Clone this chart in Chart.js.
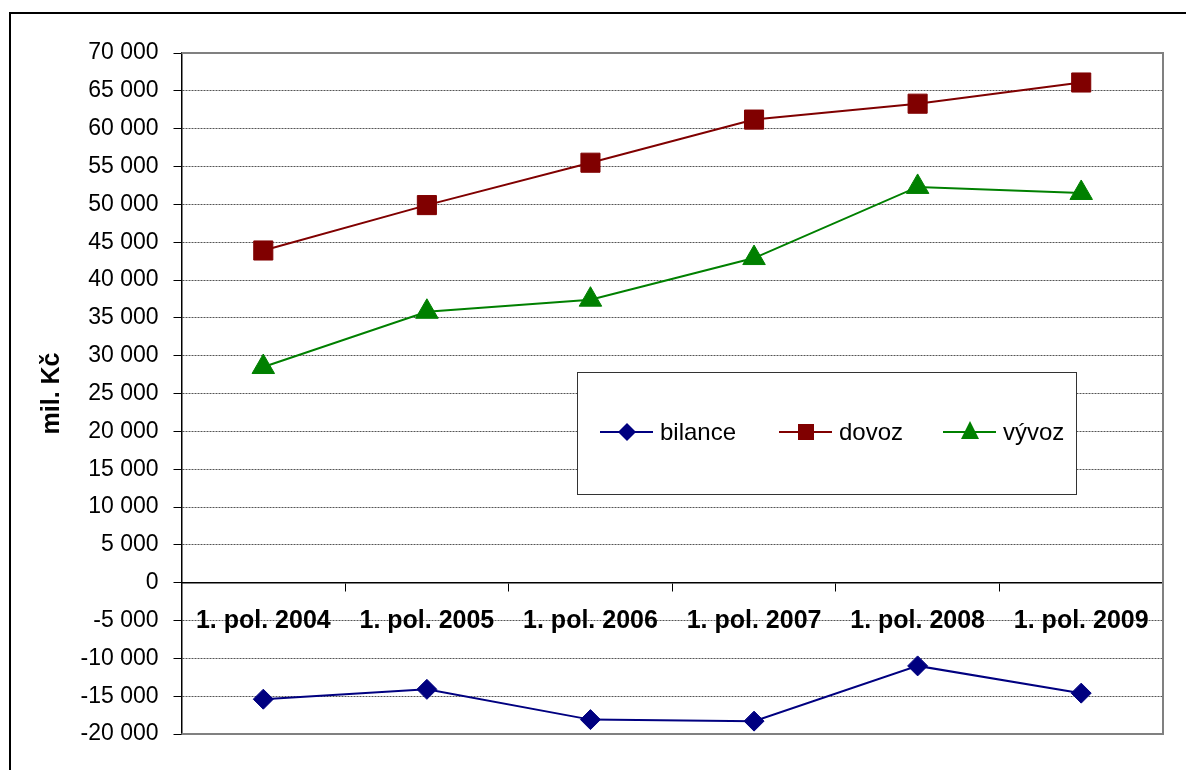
<!DOCTYPE html>
<html>
<head>
<meta charset="utf-8">
<script src="https://cdn.jsdelivr.net/npm/chart.js@4.4.1/dist/chart.umd.min.js"></script>
<style>
    html, body { margin: 0; padding: 0; background: #fff; overflow: hidden; }
    #frame { position: absolute; left: 9px; top: 12px; width: 1300px; height: 900px; border: 2px solid #000; }
    #myChart { position: absolute; left: 0; top: 0; }
</style>
</head>
<body>
<div id="frame"></div>
<canvas id="myChart" width="1186" height="770"></canvas>
<script>
const categories = ["1. pol. 2004", "1. pol. 2005", "1. pol. 2006", "1. pol. 2007", "1. pol. 2008", "1. pol. 2009"];
const bilance = [-15400, -14100, -18100, -18300, -11000, -14600];
const dovoz = [43900, 49900, 55500, 61200, 63300, 66100];
const vyvoz = [28500, 35800, 37400, 42900, 52300, 51500];
const yTicks = [-20000, -15000, -10000, -5000, 0, 5000, 10000, 15000, 20000, 25000, 30000, 35000, 40000, 45000, 50000, 55000, 60000, 65000, 70000];

const FONT = "'Liberation Sans', Arial, sans-serif";

// "70 000", "-5 000"
const fmt = (v) => (v < 0 ? '-' : '') + String(Math.abs(v)).replace(/\B(?=(\d{3})+(?!\d))/g, ' ');

// grey frame of the plot area (top, right, bottom)
const plotFrame = {
    id: 'plotFrame',
    beforeDatasetsDraw(chart) {
        const { ctx, chartArea: a } = chart;
        ctx.save();
        ctx.strokeStyle = '#808080';
        ctx.lineWidth = 2;
        ctx.beginPath();
        ctx.moveTo(a.left, a.top);
        ctx.lineTo(a.right, a.top);
        ctx.lineTo(a.right, a.bottom);
        ctx.lineTo(a.left, a.bottom);
        ctx.stroke();
        ctx.restore();
    }
};

function marker(ctx, style, x, y, color) {
    ctx.fillStyle = color;
    ctx.beginPath();
    if (style === 'rectRot') {
        const r = 9;
        ctx.moveTo(x - r, y); ctx.lineTo(x, y - r); ctx.lineTo(x + r, y); ctx.lineTo(x, y + r);
    } else if (style === 'rect') {
        ctx.rect(x - 8, y - 8, 16, 16);
    } else {
        ctx.moveTo(x, y - 11); ctx.lineTo(x + 9, y + 7); ctx.lineTo(x - 9, y + 7);
    }
    ctx.closePath();
    ctx.fill();
}

// boxed legend inside the plot
const legendBox = {
    id: 'legendBox',
    afterDatasetsDraw(chart) {
        const ctx = chart.ctx;
        ctx.save();
        ctx.fillStyle = '#fff';
        ctx.fillRect(577, 372, 500, 123);
        ctx.strokeStyle = '#333';
        ctx.lineWidth = 1;
        ctx.strokeRect(577.5, 372.5, 499, 122);
        const starts = [600, 779, 943];
        const y = 432;
        chart.data.datasets.forEach((ds, i) => {
            const x0 = starts[i];
            ctx.strokeStyle = ds.borderColor;
            ctx.lineWidth = 2;
            ctx.beginPath();
            ctx.moveTo(x0, y);
            ctx.lineTo(x0 + 53, y);
            ctx.stroke();
            marker(ctx, ds.pointStyle, x0 + 27, y, ds.borderColor);
            ctx.fillStyle = '#000';
            ctx.font = '24px ' + FONT;
            ctx.textBaseline = 'middle';
            ctx.fillText(ds.label, x0 + 60, y + 1);
        });
        ctx.restore();
    }
};

function localChart() {
    const inf = {
        labels: categories,
        datasets: [
            {
                label: 'bilance',
                data: bilance,
                borderColor: '#000080',
                backgroundColor: '#000080',
                pointStyle: 'rectRot',
                pointRadius: 10,
                pointHoverRadius: 10,
            },
            {
                label: 'dovoz',
                data: dovoz,
                borderColor: '#800000',
                backgroundColor: '#800000',
                pointStyle: 'rect',
                pointRadius: 13.5,
                pointHoverRadius: 13.5,
            },
            {
                label: 'vývoz',
                data: vyvoz,
                borderColor: '#008000',
                backgroundColor: '#008000',
                pointStyle: 'triangle',
                pointRadius: 13,
                pointHoverRadius: 13,
            },
        ],
    };

    const options = {
        responsive: false,
        animation: false,
        devicePixelRatio: 1,
        layout: { padding: { left: 10, top: 53, right: 23, bottom: 36 } },
        elements: {
            line: { borderWidth: 2, tension: 0 },
            point: { borderWidth: 1 },
        },
        scales: {
            x: {
                type: 'category',
                offset: true,
                position: { y: 0 },
                afterFit: (s) => { s.height = 0; },
                grid: {
                    display: true,
                    drawOnChartArea: false,
                    drawTicks: true,
                    tickLength: 8,
                    tickColor: '#000',
                    offset: true,
                },
                border: { display: true, color: '#000', width: 1.5 },
                ticks: {
                    color: '#000',
                    font: { family: FONT, size: 25, weight: 'bold' },
                    padding: 15,
                    maxRotation: 0,
                    autoSkip: false,
                },
            },
            y: {
                min: yTicks[0],
                max: yTicks[yTicks.length - 1],
                afterFit: (s) => { s.width = 171.5; },
                afterBuildTicks: (s) => { s.ticks = yTicks.map((v) => ({ value: v })); },
                grid: {
                    color: (c) => (c.tick && c.tick.value === 0 ? 'rgba(0,0,0,0)' : '#555'),
                    lineWidth: 1,
                    drawTicks: true,
                    tickLength: 8,
                    tickColor: '#000',
                },
                border: { display: true, color: '#000', width: 1.5, dash: [2, 1] },
                ticks: {
                    color: '#000',
                    font: { family: FONT, size: 23 },
                    padding: 15,
                    callback: (v) => fmt(v),
                },
                title: {
                    display: true,
                    text: 'mil. Kč',
                    color: '#000',
                    font: { family: FONT, size: 25, weight: 'bold' },
                    padding: { top: 27, bottom: 0 },
                },
            },
        },
        plugins: {
            legend: { display: false },
            tooltip: { enabled: false },
        },
    };

    const config = {
        type: 'line',
        data: inf,
        options,
        plugins: [plotFrame, legendBox],
    };
    const myChart = new Chart(document.getElementById('myChart'), config);
}
localChart();
</script>
</body>
</html>
